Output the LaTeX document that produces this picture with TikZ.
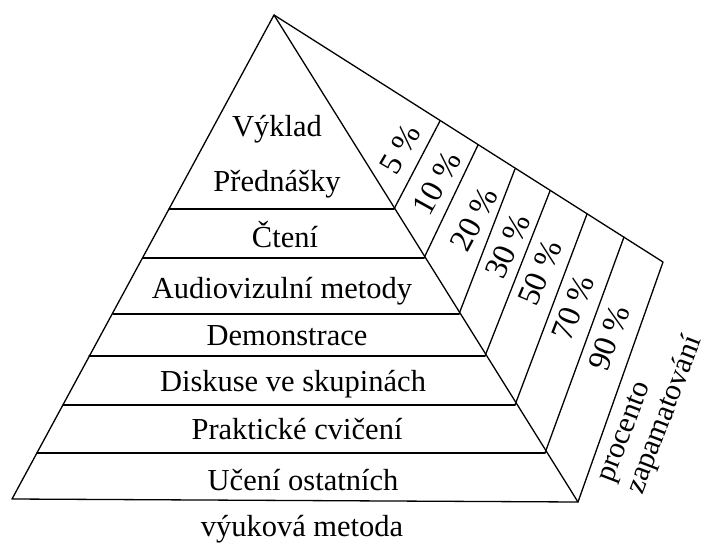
\documentclass[tikz,border=0pt]{standalone}
\usepackage{fontspec}
\setmainfont{Liberation Serif}
\begin{document}
\begin{tikzpicture}[x=1pt,y=-1pt,
  edge/.style={line width=1.3pt,line join=round,line cap=round},
  lbl/.style={font=\fontsize{30.5}{32}\selectfont,inner sep=0pt,anchor=base},
  pct/.style={font=\fontsize{32}{34}\selectfont,inner sep=0pt,anchor=center}]
\useasboundingbox (0,0) rectangle (708,545);
% main corners
\coordinate (A) at (274,15);
\coordinate (L) at (12,499);
\coordinate (R) at (578,502);
\coordinate (B) at (663,262);
% left edge points
\coordinate (L1) at (169,209);
\coordinate (L2) at (143,258);
\coordinate (L3) at (113,314);
\coordinate (L4) at (89,356);
\coordinate (L5) at (63,405);
\coordinate (L6) at (37,453);
% front right edge points
\coordinate (R1) at (394,209);
\coordinate (R2) at (424,258);
\coordinate (R3) at (459,314);
\coordinate (R4) at (485,356);
\coordinate (R5) at (515,405);
\coordinate (R6) at (545,453);
% top back edge points
\coordinate (T1) at (440,121);
\coordinate (T2) at (478,145);
\coordinate (T3) at (515,169);
\coordinate (T4) at (550,191);
\coordinate (T5) at (587,214);
\coordinate (T6) at (624,237);
% outline
\draw[edge] (A) -- (L) -- (R) -- cycle;
\draw[edge] (A) -- (B) -- (R);
\foreach \i in {1,...,6}{
  \draw[edge] (L\i) -- (R\i);
  \draw[edge] (R\i) -- (T\i);
}
% method labels
\node[lbl] (m0) at (277,137) {Výklad};
\node[lbl] (m1) at (277,192) {Přednášky};
\node[lbl] (m2) at (285,247) {Čtení};
\node[lbl] (m3) at (282,298) {Audiovizulní metody};
\node[lbl] (m4) at (287,345) {Demonstrace};
\node[lbl] (m5) at (293,391) {Diskuse ve skupinách};
\node[lbl] (m6) at (297,439) {Praktické cvičení};
\node[lbl] (m7) at (303,490) {Učení ostatních};
\node[lbl] (ax) at (302,536) {výuková metoda};
% percent labels
\node[pct,rotate=60] (p1) at (400,149) {5 \%};
\node[pct,rotate=61] (p2) at (437,183) {10 \%};
\node[pct,rotate=62] (p3) at (474,219) {20 \%};
\node[pct,rotate=66] (p4) at (508,246) {30 \%};
\node[pct,rotate=67] (p5) at (540,273) {50 \%};
\node[pct,rotate=69] (p6) at (573,308) {70 \%};
\node[pct,rotate=70] (p7) at (609,338) {90 \%};
% axis label
\node[pct,rotate=69,align=left,font=\fontsize{30}{32}\selectfont] (q) at (652,410) {procento\\zapamatování};
\end{tikzpicture}
\end{document}
